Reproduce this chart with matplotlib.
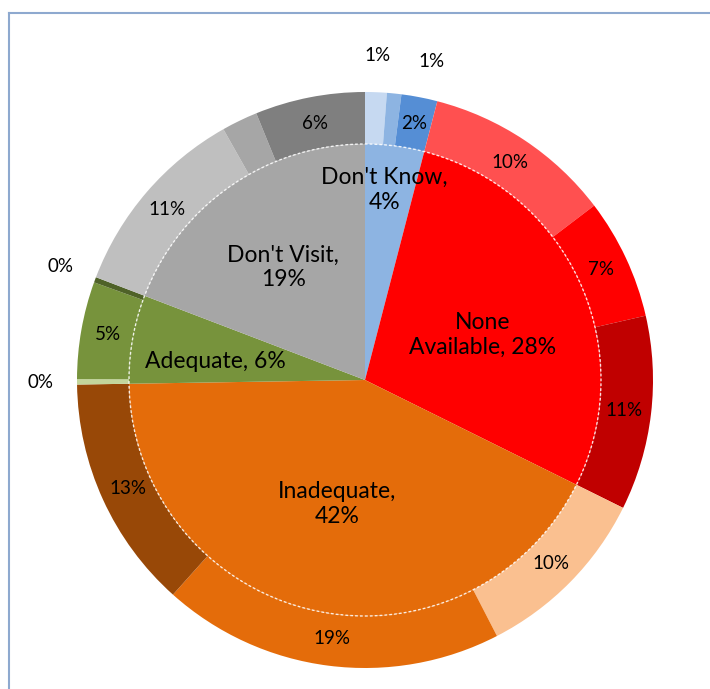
import numpy as np
import matplotlib
matplotlib.use("Agg")
from matplotlib import pyplot as plt
from matplotlib.patches import Circle
from matplotlib.lines import Line2D

plt.rcParams['font.family'] = ['Lato', 'DejaVu Sans']

# inner pie: share of answers per category
categories = ["Don't Know", "None\nAvailable", "Inadequate", "Adequate", "Don't Visit"]
label_sep = [",\n", ", ", ",\n", ", ", ",\n"]
inner_values = [4, 28, 42, 6, 19]
inner_colors = ['#8DB4E2', '#FF0000', '#E46C0A', '#77933C', '#A6A6A6']

# outer ring: three sub-groups per category
outer_values = [1.2, 0.8, 2.0,
                10.5, 6.7, 10.8,
                10.0, 19.0, 13.0,
                0.3, 5.4, 0.3,
                10.9, 2.0, 6.1]
outer_colors = ['#C6D9F1', '#8DB4E2', '#558ED5',
                '#FF5050', '#FF0000', '#C00000',
                '#FAC090', '#E46C0A', '#984807',
                '#C3D69B', '#77933C', '#4F6228',
                '#BFBFBF', '#A6A6A6', '#7F7F7F']
outer_hidden = [13]  # label not shown on chart

fig = plt.figure(figsize=(7.1, 6.89), dpi=100)
ax = fig.add_axes([0, 0, 1, 1])

cx, cy = 365, 309
r_out, r_in = 288, 236

ax.pie(outer_values, colors=outer_colors, radius=r_out, center=(cx, cy),
       startangle=90, counterclock=False,
       wedgeprops=dict(width=r_out - r_in, linewidth=0))
ax.pie(inner_values, colors=inner_colors, radius=r_in, center=(cx, cy),
       startangle=90, counterclock=False,
       wedgeprops=dict(linewidth=0))
ax.set_xlim(0, 710)
ax.set_ylim(0, 689)
ax.set_aspect('equal')
ax.axis('off')

# dotted white seam between the pie and the ring
ax.add_patch(Circle((cx, cy), r_in, fill=False, edgecolor='white',
                    linewidth=1.0, linestyle=(0, (2, 1.5)), alpha=0.85))


def pos(deg, r):
    a = np.deg2rad(90 - deg)
    return cx + r * np.cos(a), cy + r * np.sin(a)


total = sum(inner_values)
# inner labels
in_r = [191, 126, 127, 151, 139]
in_shift = [-1.5, 3.5, 0, -3, -1.5]
start = 0
for i, v in enumerate(inner_values):
    mid = (start + v / 2) / total * 360
    start += v
    x, y = pos(mid + in_shift[i], in_r[i])
    ax.text(x, y, f"{categories[i]}{label_sep[i]}{v:.0f}%", ha='center',
            va='center', fontsize=16.5, color='black', linespacing=1.2)

# outer labels
start = 0
for i, v in enumerate(outer_values):
    mid = (start + v / 2) / total * 360
    start += v
    if i in outer_hidden:
        continue
    if v < 1.5:
        r = 325
        shift = 6 if i == 1 else 0
    else:
        r = 261
        shift = 0
    x, y = pos(mid + shift, r)
    ax.text(x, y, f"{v:.0f}%", ha='center', va='center', fontsize=13.5,
            color='black')

# chart area border (only left and top edges are in view)
bx, by = 8.5 / 710, 1 - 12.5 / 689
fig.add_artist(Line2D([bx, bx], [0, by], transform=fig.transFigure,
                      color='#8EA9CF', linewidth=1.5))
fig.add_artist(Line2D([bx, 1], [by, by], transform=fig.transFigure,
                      color='#8EA9CF', linewidth=1.5))

plt.savefig('out.png', dpi=100)
